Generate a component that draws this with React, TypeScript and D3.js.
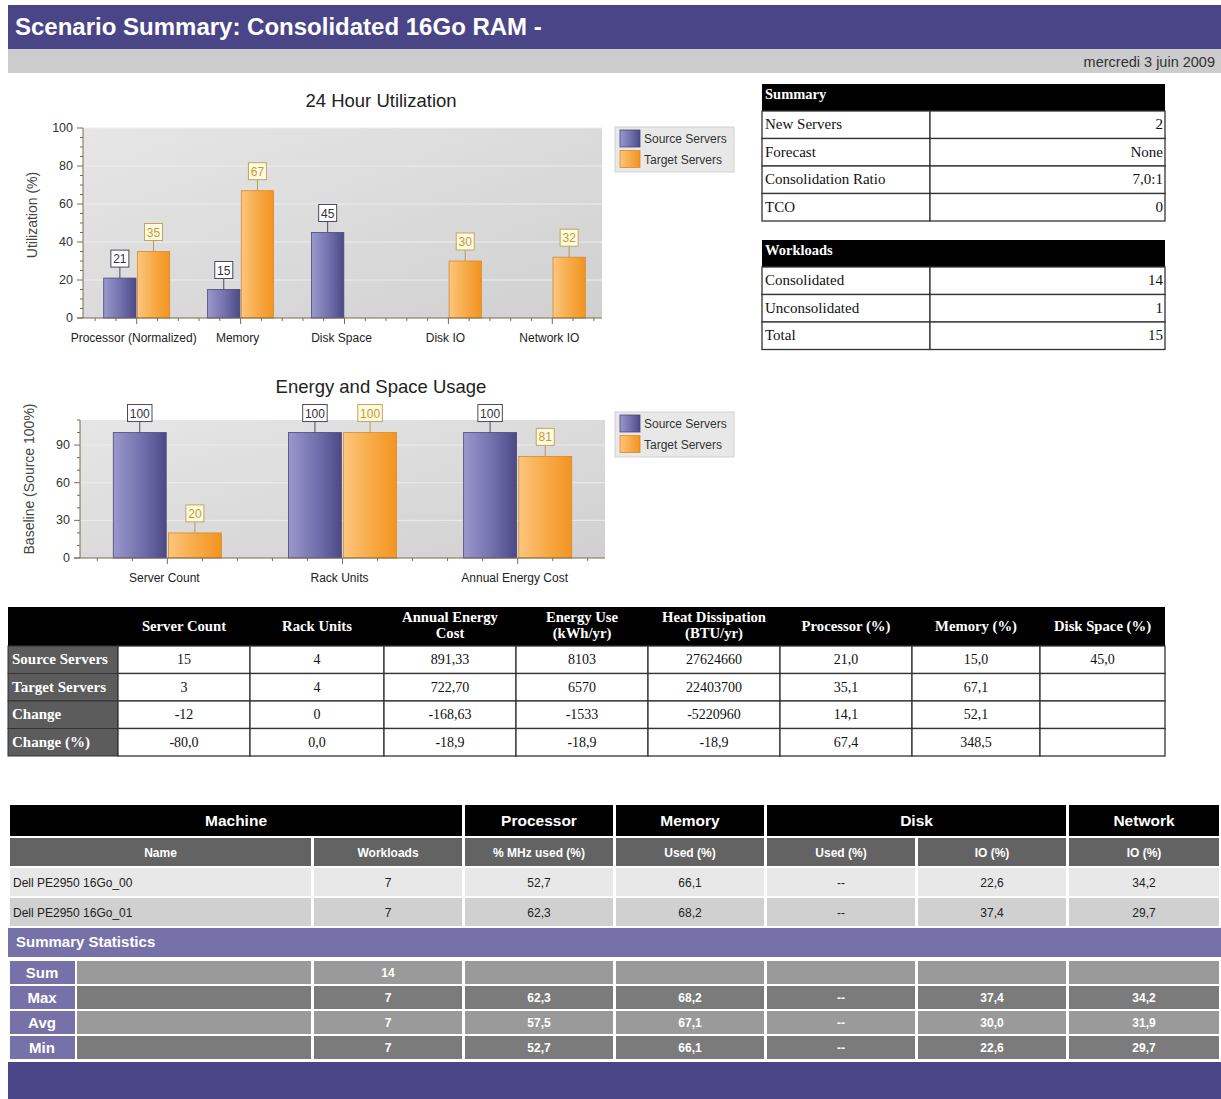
import React from 'react';
import * as d3 from 'd3';

// ---- data ----
const seriesNames = ['Source Servers', 'Target Servers'];

const utilCategories = ['Processor (Normalized)', 'Memory', 'Disk Space', 'Disk IO', 'Network IO'];
const utilSource: (number | null)[] = [21, 15, 45, null, null];
const utilTarget: (number | null)[] = [35, 67, null, 30, 32];
const utilTicks = [0, 20, 40, 60, 80, 100];

const energyCategories = ['Server Count', 'Rack Units', 'Annual Energy Cost'];
const energySource: (number | null)[] = [100, 100, 100];
const energyTarget: (number | null)[] = [20, 100, 81];
const energyTicks = [0, 30, 60, 90];

const summaryRows = [['New Servers', '2'], ['Forecast', 'None'], ['Consolidation Ratio', '7,0:1'], ['TCO', '0']];
const workloadRows = [['Consolidated', '14'], ['Unconsolidated', '1'], ['Total', '15']];

const compareColumns = ['Server Count', 'Rack Units', 'Annual Energy\nCost', 'Energy Use\n(kWh/yr)',
  'Heat Dissipation\n(BTU/yr)', 'Processor (%)', 'Memory (%)', 'Disk Space (%)'];
const compareRowLabels = ['Source Servers', 'Target Servers', 'Change', 'Change (%)'];
const compareValues = [
  ['15', '4', '891,33', '8103', '27624660', '21,0', '15,0', '45,0'],
  ['3', '4', '722,70', '6570', '22403700', '35,1', '67,1', ''],
  ['-12', '0', '-168,63', '-1533', '-5220960', '14,1', '52,1', ''],
  ['-80,0', '0,0', '-18,9', '-18,9', '-18,9', '67,4', '348,5', ''],
];

const machineGroups = ['Machine', 'Processor', 'Memory', 'Disk', 'Network'];
const machineSubHeaders = ['Name', 'Workloads', '% MHz used (%)', 'Used (%)', 'Used (%)', 'IO (%)', 'IO (%)'];
const machineRows = [
  ['Dell PE2950 16Go_00', '7', '52,7', '66,1', '--', '22,6', '34,2'],
  ['Dell PE2950 16Go_01', '7', '62,3', '68,2', '--', '37,4', '29,7'],
];
const statLabels = ['Sum', 'Max', 'Avg', 'Min'];
const statRows = [
  ['', '14', '', '', '', '', ''],
  ['', '7', '62,3', '68,2', '--', '37,4', '34,2'],
  ['', '7', '57,5', '67,1', '--', '30,0', '31,9'],
  ['', '7', '52,7', '66,1', '--', '22,6', '29,7'],
];

// ---- styles ----
const sans = "'Liberation Sans', Arial, sans-serif";
const serif = "'Liberation Serif', 'Times New Roman', serif";
const purple = '#4a4587';
const lightPurple = '#7672a9';

type ChartProps = {
  title: string; titleY: number;
  yTitle: string; yTitleY: number;
  categories: string[]; source: (number | null)[]; target: (number | null)[];
  ticks: number[]; yMax: number; minorStep: number;
  left: number; right: number; top: number; bottom: number; shift: number;
  padInner: number; padOuter: number;
  legendY: number; catY: number; id: string;
};

function BarChart(p: ChartProps) {
  const x0 = d3.scaleBand().domain(p.categories).range([p.left + p.shift, p.right + p.shift])
    .paddingInner(p.padInner).paddingOuter(p.padOuter);
  const x1 = d3.scaleBand().domain(['s', 't']).range([0, x0.bandwidth()]).paddingInner(0.04);
  const y = d3.scaleLinear().domain([0, p.yMax]).range([p.bottom, p.top]);
  const minorY = d3.range(0, p.yMax + 0.001, p.minorStep).filter(v => !p.ticks.includes(v));
  const step = x0.step();

  const bars: any[] = [];
  p.categories.forEach((c, i) => {
    [['s', p.source[i]], ['t', p.target[i]]].forEach(([k, v]) => {
      if (v == null) return;
      bars.push({ k, v, x: x0(c)! + x1(k as string)!, w: x1.bandwidth() });
    });
  });

  return (
    <g>
      <text x={381} y={p.titleY} textAnchor="middle" fontFamily={sans} fontSize={18.5} fill="#222">{p.title}</text>
      <rect x={p.left} y={p.top} width={p.right - p.left} height={p.bottom - p.top} fill={`url(#bg${p.id})`} />
      {p.ticks.filter(t => t > 0).map(t => (
        <line key={t} x1={p.left} x2={p.right} y1={y(t)} y2={y(t)} stroke="#ededed" strokeWidth={1} />
      ))}
      {bars.map((b, i) => (
        <rect key={i} x={b.x} y={y(b.v)} width={b.w} height={p.bottom - y(b.v)}
          fill={b.k === 's' ? 'url(#srcGrad)' : 'url(#tgtGrad)'}
          stroke={b.k === 's' ? '#4a4878' : '#d88a2a'} strokeWidth={0.8} />
      ))}
      {/* y axis */}
      <line x1={p.left} x2={p.left} y1={p.top} y2={p.bottom} stroke="#7a6a50" />
      {p.ticks.map(t => (
        <g key={t}>
          <line x1={p.left - 6} x2={p.left} y1={y(t)} y2={y(t)} stroke="#7a6a50" />
          <text x={p.left - 10} y={y(t) + 4} textAnchor="end" fontFamily={sans} fontSize={12.5} fill="#333">{t}</text>
        </g>
      ))}
      {minorY.map(t => (
        <line key={t} x1={p.left - 3} x2={p.left} y1={y(t)} y2={y(t)} stroke="#7a6a50" />
      ))}
      <text transform={`translate(${p.left - 46},${p.yTitleY}) rotate(-90)`} textAnchor="middle" fontFamily={sans} fontSize={14} fill="#444">{p.yTitle}</text>
      {/* x axis */}
      <line x1={p.left - 6} x2={p.right} y1={p.bottom} y2={p.bottom} stroke="#7a6a50" />
      {p.categories.map(c => {
        const cx = x0(c)! + x0.bandwidth() / 2;
        return (
          <g key={c}>
            <line x1={cx} x2={cx} y1={p.bottom} y2={p.bottom + 6} stroke="#7a6a50" />
            {[-2, -1, 1, 2].map(k => cx + k * step / 5).filter(t => t < p.right).map(t => (
              <line key={t} x1={t} x2={t} y1={p.bottom} y2={p.bottom + 3} stroke="#7a6a50" />
            ))}
            <text x={cx - 3} y={p.catY} textAnchor="middle" fontFamily={sans} fontSize={12} fill="#222">{c}</text>
          </g>
        );
      })}
      {/* value labels */}
      {bars.map((b, i) => {
        const label = String(b.v);
        const bw = label.length * 6.5 + 5;
        const cx = b.x + b.w / 2;
        const by = y(b.v) - 11;
        const src = b.k === 's';
        return (
          <g key={i}>
            <line x1={cx} x2={cx} y1={y(b.v)} y2={by} stroke={src ? '#4a4a5a' : '#b89a50'} />
            <rect x={cx - bw / 2} y={by - 17} width={bw} height={17} fill={src ? '#ffffff' : '#fffbe3'}
              stroke={src ? '#4a4a5a' : '#c4a45a'} />
            <text x={cx} y={by - 4} textAnchor="middle" fontFamily={sans} fontSize={12}
              fill={src ? '#333' : '#c59a30'}>{label}</text>
          </g>
        );
      })}
      {/* legend */}
      <rect x={615} y={p.legendY} width={119} height={45} fill="#e8e8e8" stroke="#d2d2d2" />
      {seriesNames.map((s, i) => (
        <g key={s}>
          <rect x={620} y={p.legendY + 3 + i * 20.5} width={20} height={17}
            fill={i === 0 ? 'url(#srcGrad)' : 'url(#tgtGrad)'} stroke={i === 0 ? '#4a4878' : '#d88a2a'} strokeWidth={0.8} />
          <text x={644} y={p.legendY + 16 + i * 20.5} fontFamily={sans} fontSize={12} fill="#333">{s}</text>
        </g>
      ))}
    </g>
  );
}

function KeyTable({ title, rows, top }: { title: string; rows: string[][]; top: number }) {
  const left = 762, right = 1165, mid = 930, headH = 27, rowH = 27.5;
  return (
    <g>
      <rect x={left} y={top} width={right - left} height={headH} fill="#000" />
      <text x={left + 3} y={top + 15} fontFamily={serif} fontWeight="bold" fontSize={14.5} fill="#fff">{title}</text>
      {rows.map((r, i) => {
        const ry = top + headH + i * rowH;
        return (
          <g key={r[0]}>
            <rect x={left} y={ry} width={mid - left} height={rowH} fill="#fff" stroke="#333" strokeWidth={1.3} />
            <rect x={mid} y={ry} width={right - mid} height={rowH} fill="#fff" stroke="#333" strokeWidth={1.3} />
            <text x={left + 3} y={ry + 18} fontFamily={serif} fontSize={15} fill="#111">{r[0]}</text>
            <text x={right - 2} y={ry + 18} textAnchor="end" fontFamily={serif} fontSize={15} fill="#111">{r[1]}</text>
          </g>
        );
      })}
    </g>
  );
}

function CompareTable() {
  const edges = [8, 118, 250, 384, 516, 648, 780, 912, 1040, 1165];
  const top = 607, headH = 39, rowH = 27.5;
  return (
    <g>
      <rect x={edges[0]} y={top} width={edges[edges.length - 1] - edges[0]} height={headH} fill="#000" />
      {compareColumns.map((c, i) => {
        const cx = (edges[i + 1] + edges[i + 2]) / 2;
        const lines = c.split('\n');
        return (
          <text key={c} textAnchor="middle" fontFamily={serif} fontWeight="bold" fontSize={14.7} fill="#fff">
            {lines.map((l, j) => (
              <tspan key={j} x={cx} y={lines.length === 1 ? top + 24 : top + 15 + j * 16}>{l}</tspan>
            ))}
          </text>
        );
      })}
      {compareRowLabels.map((lab, r) => {
        const ry = top + headH + r * rowH;
        return (
          <g key={lab}>
            <rect x={edges[0]} y={ry} width={edges[1] - edges[0]} height={rowH} fill="#5c5c5c" stroke="#333" />
            <text x={edges[0] + 4} y={ry + 18} fontFamily={serif} fontWeight="bold" fontSize={15} fill="#fff">{lab}</text>
            {compareValues[r].map((v, c) => (
              <g key={c}>
                <rect x={edges[c + 1]} y={ry} width={edges[c + 2] - edges[c + 1]} height={rowH} fill="#fff" stroke="#333" strokeWidth={1.3} />
                <text x={(edges[c + 1] + edges[c + 2]) / 2} y={ry + 18} textAnchor="middle" fontFamily={serif} fontSize={14} fill="#111">{v}</text>
              </g>
            ))}
          </g>
        );
      })}
    </g>
  );
}

function MachineTable() {
  const groupCols = [[10, 462], [465, 613], [616, 764], [767, 1066], [1069, 1219]];
  const subCols = [[10, 311], [314, 462], [465, 613], [616, 764], [767, 915], [918, 1066], [1069, 1219]];
  const statCols = [[77, 311], ...subCols.slice(1)];
  const rowFills = ['#e8e8e8', '#d0d0d0'];
  return (
    <g>
      {machineGroups.map((g, i) => (
        <g key={g}>
          <rect x={groupCols[i][0]} y={805} width={groupCols[i][1] - groupCols[i][0]} height={31} fill="#000" />
          <text x={(groupCols[i][0] + groupCols[i][1]) / 2} y={826} textAnchor="middle" fontFamily={sans} fontWeight="bold" fontSize={15.5} fill="#fff">{g}</text>
        </g>
      ))}
      {machineSubHeaders.map((s, i) => (
        <g key={i}>
          <rect x={subCols[i][0]} y={838} width={subCols[i][1] - subCols[i][0]} height={28} fill="#636363" />
          <text x={(subCols[i][0] + subCols[i][1]) / 2} y={857} textAnchor="middle" fontFamily={sans} fontWeight="bold" fontSize={12} fill="#fff">{s}</text>
        </g>
      ))}
      {machineRows.map((row, r) => {
        const ry = 868 + r * 30;
        return (
          <g key={r}>
            {row.map((v, c) => (
              <g key={c}>
                <rect x={subCols[c][0]} y={ry} width={subCols[c][1] - subCols[c][0]} height={28} fill={rowFills[r]} />
                <text x={c === 0 ? subCols[c][0] + 3 : (subCols[c][0] + subCols[c][1]) / 2} y={ry + 19}
                  textAnchor={c === 0 ? 'start' : 'middle'} fontFamily={sans} fontSize={12} fill="#222">{v}</text>
              </g>
            ))}
          </g>
        );
      })}
      <rect x={8} y={928} width={1213} height={29} fill={lightPurple} />
      <text x={16} y={947} fontFamily={sans} fontWeight="bold" fontSize={15} fill="#fff">Summary Statistics</text>
      {statLabels.map((lab, r) => {
        const ry = 961 + r * 25;
        const fill = r % 2 === 0 ? '#9a9a9a' : '#7b7b7b';
        return (
          <g key={lab}>
            <rect x={10} y={ry} width={65} height={23} fill={lightPurple} />
            <text x={42} y={ry + 17} textAnchor="middle" fontFamily={sans} fontWeight="bold" fontSize={15} fill="#fff">{lab}</text>
            {statRows[r].map((v, c) => (
              <g key={c}>
                <rect x={statCols[c][0]} y={ry} width={statCols[c][1] - statCols[c][0]} height={23} fill={fill} />
                <text x={(statCols[c][0] + statCols[c][1]) / 2} y={ry + 16} textAnchor="middle" fontFamily={sans} fontWeight="bold" fontSize={12} fill="#fff">{v}</text>
              </g>
            ))}
          </g>
        );
      })}
      <rect x={8} y={1062} width={1213} height={37} fill={purple} />
    </g>
  );
}

export default function App() {
  return (
    <svg width={1221} height={1099} style={{ position: 'absolute', left: 0, top: 0, background: '#fff' }}>
      <defs>
        <linearGradient id="srcGrad" x1="0" x2="1" y1="0" y2="0">
          <stop offset="0" stopColor="#9a98cc" />
          <stop offset="0.5" stopColor="#7573b0" />
          <stop offset="1" stopColor="#4c4a86" />
        </linearGradient>
        <linearGradient id="tgtGrad" x1="0" x2="1" y1="0" y2="0">
          <stop offset="0" stopColor="#fcc67e" />
          <stop offset="0.5" stopColor="#f8ab48" />
          <stop offset="1" stopColor="#f29420" />
        </linearGradient>
        {['1', '2'].map(id => (
          <linearGradient key={id} id={`bg${id}`} x1="0" x2="1" y1="0" y2="1">
            <stop offset="0" stopColor="#e6e6e6" />
            <stop offset="1" stopColor="#d0d0d0" />
          </linearGradient>
        ))}
      </defs>

      {/* page header */}
      <rect x={8} y={5} width={1213} height={44} fill={purple} />
      <text x={15} y={35} fontFamily={sans} fontWeight="bold" fontSize={24} fill="#fff">Scenario Summary: Consolidated 16Go RAM -</text>
      <rect x={8} y={49} width={1213} height={24} fill="#cccccc" />
      <text x={1215} y={67} textAnchor="end" fontFamily={sans} fontSize={14.5} fill="#333">mercredi 3 juin 2009</text>

      <BarChart id="1" title="24 Hour Utilization" titleY={107} yTitle="Utilization (%)" yTitleY={215}
        categories={utilCategories} source={utilSource} target={utilTarget}
        ticks={utilTicks} yMax={100} minorStep={5}
        left={83} right={602} top={128} bottom={318} shift={2} padInner={0.365} padOuter={0.18}
        legendY={127} catY={342} />

      <BarChart id="2" title="Energy and Space Usage" titleY={393} yTitle="Baseline (Source 100%)" yTitleY={479}
        categories={energyCategories} source={energySource} target={energyTarget}
        ticks={energyTicks} yMax={110} minorStep={10}
        left={80} right={605} top={420} bottom={558} shift={0} padInner={0.383} padOuter={0.19}
        legendY={412} catY={582} />

      <KeyTable title="Summary" rows={summaryRows} top={84} />
      <KeyTable title="Workloads" rows={workloadRows} top={240} />

      <CompareTable />
      <MachineTable />
    </svg>
  );
}
